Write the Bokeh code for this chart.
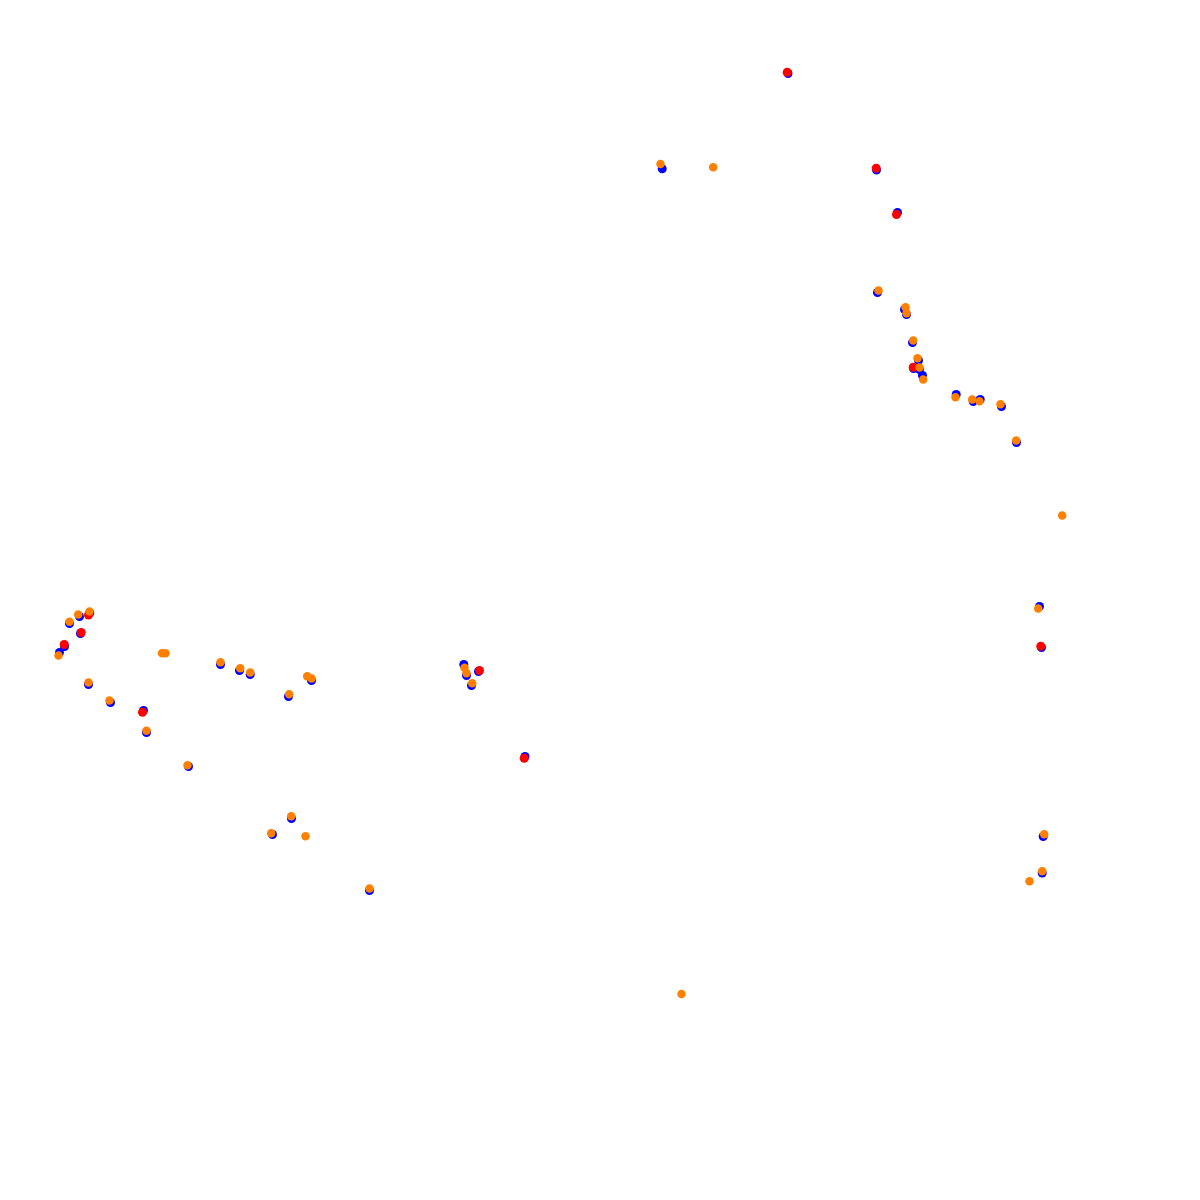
from bokeh.plotting import figure
from bokeh.models import Range1d
from bokeh.embed import file_html
from bokeh.resources import INLINE

# Series positions (pixel-like track coordinates, y grows downward)
blue_x = [787.5, 661.7, 876, 897, 877, 904, 906, 912, 918, 913, 919, 922, 955.7, 972.7, 979.7, 1001, 1016,
          1039, 1041, 1042.7, 1041.7,
          79, 89.3, 69, 80, 64, 59, 220, 239, 249.7, 311, 288, 88, 110, 143, 146, 188,
          463.3, 466, 478, 471, 524.5, 291, 272, 369]
blue_y = [73, 168.3, 169.5, 212, 292, 309, 314, 342, 360, 368, 369, 375, 394, 401, 399, 406, 442,
          606, 647, 836, 872.5,
          616, 612.3, 623, 633, 646, 652, 664, 670, 674, 680, 696, 684, 702, 710, 732, 766,
          664, 675, 671, 685, 756, 818, 834, 890]

red_x = [786.7, 875.7, 896, 912.7, 1040.3, 88, 80.7, 63.7, 142, 479, 523.7]
red_y = [71.7, 167.7, 214, 366.7, 645.7, 614.5, 632, 644, 711.7, 670, 757.7]

orange_x = [660, 712.7, 878, 905, 906, 912.7, 917, 919, 922.7, 955, 971.7, 979, 1000, 1015.7,
            1061.7, 1037.7, 1043.7, 1041.7, 1029, 681,
            77.7, 89, 69, 58, 161.5, 165, 220, 239.7, 249.7, 306.7, 311, 288.7, 88, 109, 146, 187,
            464, 466, 471.7, 290.7, 270.7, 305, 369]
orange_y = [163.5, 166.7, 290, 306.7, 312.7, 340, 357.7, 367, 379, 396.7, 399, 400.7, 403.7, 440,
            515, 608, 833.7, 870.7, 880.7, 993.5,
            614, 611, 621.3, 655, 652.7, 652.7, 661.7, 667.7, 672, 675.7, 678, 693.7, 682, 700, 730.3, 764.7,
            667.3, 672.7, 682.7, 815.7, 832.7, 835.7, 888]

p = figure(width=1184, height=1184, output_backend="svg", toolbar_location=None,
           x_range=Range1d(0, 1184), y_range=Range1d(1184, 0), min_border=0)
p.axis.visible = False
p.grid.visible = False
p.outline_line_color = None
p.background_fill_color = "white"
p.border_fill_color = "white"

p.scatter(blue_x, blue_y, size=9, fill_color="blue", line_color=None)
p.scatter(red_x, red_y, size=9, fill_color="red", line_color=None)
p.scatter(orange_x, orange_y, size=8.5, fill_color="#ff8000", line_color=None)

open("out.html", "w").write(file_html(p, INLINE))
